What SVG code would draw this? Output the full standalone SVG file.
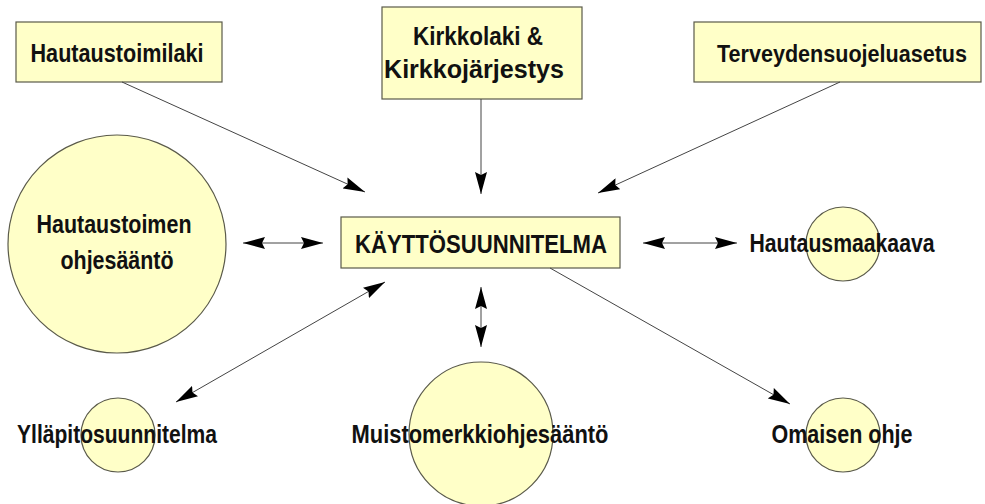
<svg xmlns="http://www.w3.org/2000/svg" width="985" height="504" viewBox="0 0 985 504">
<defs>
<marker id="ah" markerUnits="userSpaceOnUse" markerWidth="22" markerHeight="12" refX="22" refY="6" orient="auto-start-reverse" viewBox="0 0 22 12">
<path d="M0,0 L22,6 L0,12 L3,6 z" fill="#000"/>
</marker>
<style>
.box{fill:#ffffc8;stroke:#5a5a4a;stroke-width:1.2}
.circ{fill:#ffffc8;stroke:#5a5a4a;stroke-width:1.2}
.t{font-family:"Liberation Sans",Arial,sans-serif;font-weight:bold;font-size:26px;fill:#111;text-anchor:middle}
.c{stroke:#444;stroke-width:1;fill:none}
</style>
</defs>
<rect width="985" height="504" fill="#fff"/>
<g id="n-hautaustoimilaki">
<rect class="box" x="16" y="22" width="206" height="60"/>
<text class="t" x="117" y="62" textLength="173" lengthAdjust="spacingAndGlyphs">Hautaustoimilaki</text>
</g>
<g id="n-kirkkolaki">
<rect class="box" x="382" y="7" width="200" height="92"/>
<text class="t" x="478" y="45" textLength="130" lengthAdjust="spacingAndGlyphs">Kirkkolaki &amp;</text>
<text class="t" x="474" y="78" textLength="180" lengthAdjust="spacingAndGlyphs">Kirkkojärjestys</text>
</g>
<g id="n-terveys">
<rect class="box" x="694" y="22" width="287" height="60"/>
<text class="t" x="842" y="62" style="font-size:23px" textLength="250" lengthAdjust="spacingAndGlyphs">Terveydensuojeluasetus</text>
</g>
<g id="n-kaytto">
<rect class="box" x="341" y="217" width="279" height="51"/>
<text class="t" x="481" y="253" textLength="252" lengthAdjust="spacingAndGlyphs">KÄYTTÖSUUNNITELMA</text>
</g>
<g id="n-ohjesaanto">
<circle class="circ" cx="117" cy="244" r="109"/>
<text class="t" x="114" y="233" textLength="155" lengthAdjust="spacingAndGlyphs">Hautaustoimen</text>
<text class="t" x="117" y="269" textLength="113" lengthAdjust="spacingAndGlyphs">ohjesääntö</text>
</g>
<g id="n-hautausmaakaava">
<circle class="circ" cx="843" cy="244" r="37"/>
<text class="t" x="842" y="252" textLength="185" lengthAdjust="spacingAndGlyphs">Hautausmaakaava</text>
</g>
<g id="n-yllapito">
<circle class="circ" cx="118" cy="435" r="37"/>
<text class="t" x="117" y="443" textLength="200" lengthAdjust="spacingAndGlyphs">Ylläpitosuunnitelma</text>
</g>
<g id="n-muistomerkki">
<circle class="circ" cx="481" cy="434" r="72"/>
<text class="t" x="480" y="443" textLength="257" lengthAdjust="spacingAndGlyphs">Muistomerkkiohjesääntö</text>
</g>
<g id="n-omaisen">
<circle class="circ" cx="843" cy="435" r="37"/>
<text class="t" x="842" y="443" textLength="141" lengthAdjust="spacingAndGlyphs">Omaisen ohje</text>
</g>
<g id="connectors">
<line class="c" x1="122" y1="82" x2="365" y2="192" marker-end="url(#ah)"/>
<line class="c" x1="481" y1="99" x2="481" y2="194" marker-end="url(#ah)"/>
<line class="c" x1="840" y1="82" x2="598" y2="193" marker-end="url(#ah)"/>
<line class="c" x1="243" y1="243" x2="323" y2="243" marker-start="url(#ah)" marker-end="url(#ah)"/>
<line class="c" x1="643" y1="243" x2="737" y2="243" marker-start="url(#ah)" marker-end="url(#ah)"/>
<line class="c" x1="481" y1="287" x2="481" y2="347" marker-start="url(#ah)" marker-end="url(#ah)"/>
<line class="c" x1="385" y1="282" x2="176" y2="402" marker-start="url(#ah)" marker-end="url(#ah)"/>
<line class="c" x1="550" y1="268" x2="790" y2="404" marker-end="url(#ah)"/>
</g>
</svg>
